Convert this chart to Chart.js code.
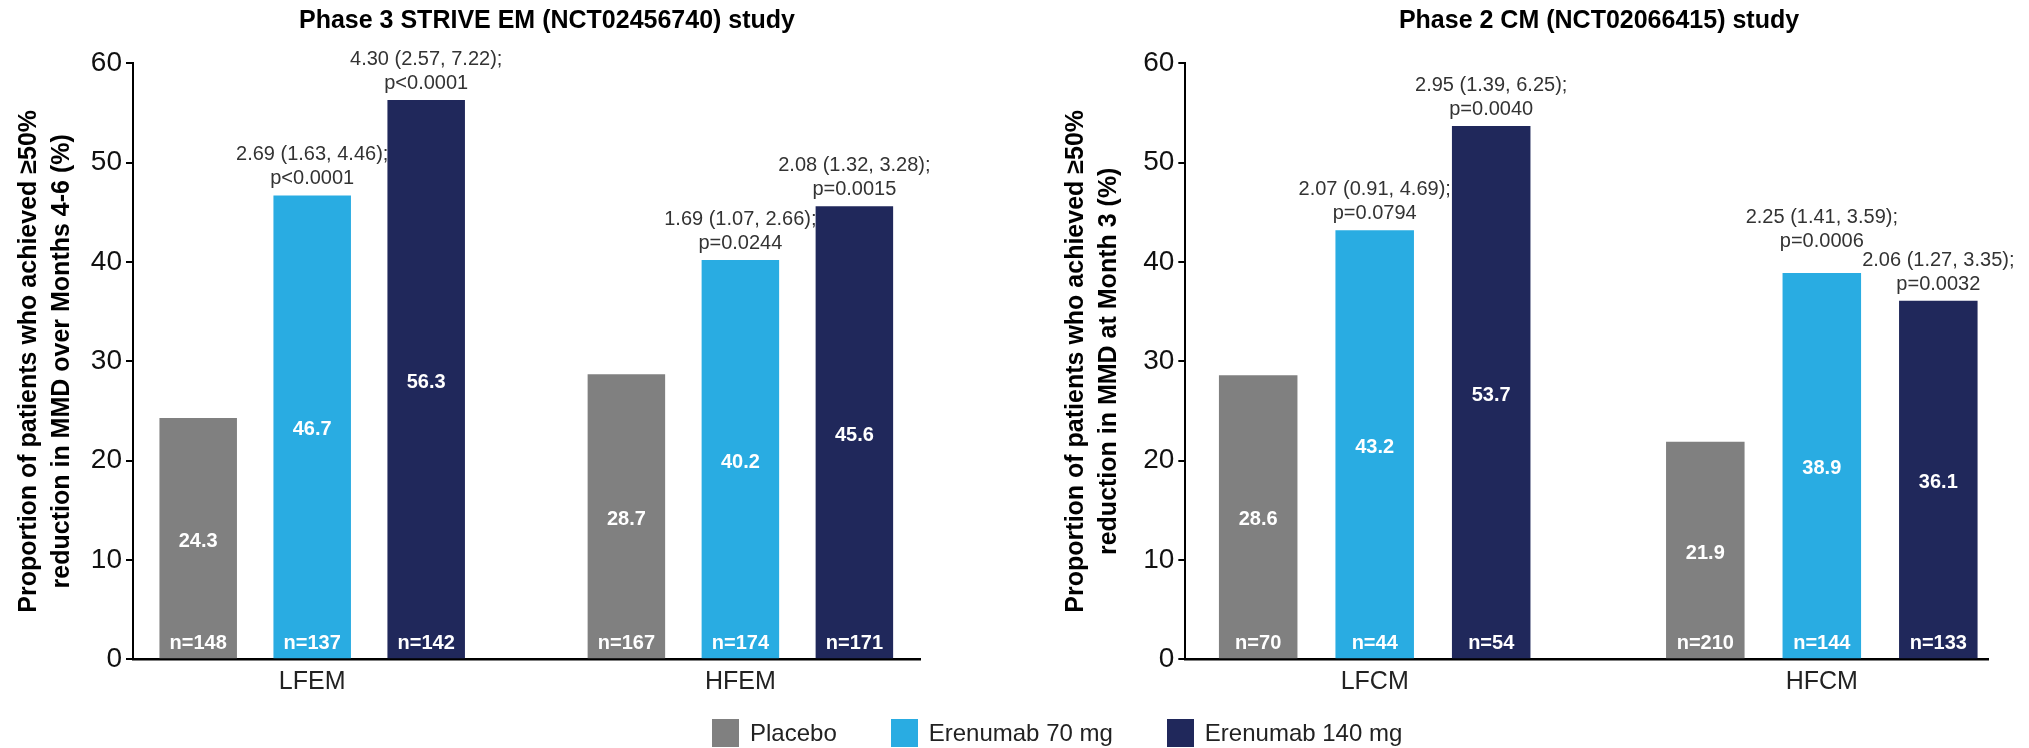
<!DOCTYPE html>
<html>
<head>
<meta charset="utf-8">
<script src="https://cdn.jsdelivr.net/npm/chart.js@4.4.1/dist/chart.umd.min.js"></script>
<style>
  html, body { margin: 0; padding: 0; background: #fff; }
  body { width: 2029px; height: 748px; position: relative; overflow: hidden; font-family: 'Liberation Sans', Arial, sans-serif; }
  #wrapL { position: absolute; left: 0; top: 0; width: 1029px; height: 748px; }
  #wrapR { position: absolute; left: 1029px; top: 0; width: 1000px; height: 748px; }
  #legend { position: absolute; left: 712px; top: 719px; display: flex; align-items: center; height: 28px; }
  .item { display: flex; align-items: center; margin-right: 54px; }
  .box { width: 27px; height: 28px; margin-right: 11px; }
  .txt { font-size: 24px; color: #222; line-height: 28px; white-space: nowrap; }
</style>
</head>
<body>
<div id="wrapL"><canvas id="cL" width="1029" height="748"></canvas></div>
<div id="wrapR"><canvas id="cR" width="1000" height="748"></canvas></div>
<div id="legend"></div>
<script>
// ---------------- DATA ----------------
const seriesNames = ['Placebo', 'Erenumab 70 mg', 'Erenumab 140 mg'];
const seriesColors = ['#808080', '#29ACE2', '#20285B'];

const emTitle = 'Phase 3 STRIVE EM (NCT02456740) study';
const emCategories = ['LFEM', 'HFEM'];
const emPlacebo = [24.3, 28.7];
const emErenumab70 = [46.7, 40.2];
const emErenumab140 = [56.3, 45.6];
const emNPlacebo = [148, 167];
const emN70 = [137, 174];
const emN140 = [142, 171];
const emOR70 = ['2.69 (1.63, 4.46);', '1.69 (1.07, 2.66);'];
const emP70 = ['p<0.0001', 'p=0.0244'];
const emOR140 = ['4.30 (2.57, 7.22);', '2.08 (1.32, 3.28);'];
const emP140 = ['p<0.0001', 'p=0.0015'];
const emYTitle = ['Proportion of patients who achieved \u226550%', 'reduction in MMD over Months 4-6 (%)'];

const cmTitle = 'Phase 2 CM (NCT02066415) study';
const cmCategories = ['LFCM', 'HFCM'];
const cmPlacebo = [28.6, 21.9];
const cmErenumab70 = [43.2, 38.9];
const cmErenumab140 = [53.7, 36.1];
const cmNPlacebo = [70, 210];
const cmN70 = [44, 144];
const cmN140 = [54, 133];
const cmOR70 = ['2.07 (0.91, 4.69);', '2.25 (1.41, 3.59);'];
const cmP70 = ['p=0.0794', 'p=0.0006'];
const cmOR140 = ['2.95 (1.39, 6.25);', '2.06 (1.27, 3.35);'];
const cmP140 = ['p=0.0040', 'p=0.0032'];
const cmYTitle = ['Proportion of patients who achieved \u226550%', 'reduction in MMD at Month 3 (%)'];

const yMin = 0, yMax = 60, yStep = 10;

// ---------------- RENDERING ----------------
const FONT = "'Liberation Sans', Arial, sans-serif";

const barLabels = {
  id: 'barLabels',
  afterDatasetsDraw(chart, args, opts) {
    const ctx = chart.ctx;
    ctx.save();
    const dsets = chart.data.datasets;
    // inside-bar labels
    dsets.forEach((ds, di) => {
      const meta = chart.getDatasetMeta(di);
      meta.data.forEach((bar, i) => {
        const p = bar.getProps(['x', 'y', 'base'], true);
        ctx.fillStyle = '#ffffff';
        ctx.font = 'bold 20px ' + FONT;
        ctx.textAlign = 'center';
        ctx.textBaseline = 'middle';
        ctx.fillText(ds.data[i].toFixed(1), p.x, (p.y + p.base) / 2 + 3);
        ctx.textBaseline = 'alphabetic';
        ctx.fillText('n=' + ds.nValues[i], p.x, p.base - 9);
      });
    });
    // annotations above bars, placed right to left avoiding overlaps
    ctx.font = '20px ' + FONT;
    ctx.fillStyle = '#333333';
    ctx.textAlign = 'center';
    ctx.textBaseline = 'alphabetic';
    const nCat = chart.data.labels.length;
    for (let i = 0; i < nCat; i++) {
      const placed = [];
      for (let di = dsets.length - 1; di >= 0; di--) {
        const ds = dsets[di];
        if (!ds.orText) continue;
        const bar = chart.getDatasetMeta(di).data[i];
        const p = bar.getProps(['x', 'y'], true);
        const l1 = ds.orText[i], l2 = ds.pText[i];
        const w = Math.max(ctx.measureText(l1).width, ctx.measureText(l2).width);
        let b2 = p.y - 11;
        const lh = 24;
        let box = {l: p.x - w / 2, r: p.x + w / 2, t: b2 - lh - 15, b: b2 + 4};
        placed.forEach(q => {
          if (box.l < q.r && box.r > q.l && box.t < q.b && box.b > q.t) {
            const shift = box.b - q.t;
            b2 -= shift;
            box = {l: box.l, r: box.r, t: box.t - shift, b: box.b - shift};
          }
        });
        placed.push(box);
        ctx.fillText(l1, p.x, b2 - lh);
        ctx.fillText(l2, p.x, b2);
      }
    }
    // chart title
    ctx.font = 'bold 25px ' + FONT;
    ctx.fillStyle = '#000';
    ctx.textAlign = 'center';
    ctx.fillText(opts.title, opts.titleX, 27.5);
    ctx.restore();
  }
};

function makeChart(id, cfg) {
  const datasets = [
    {label: seriesNames[0], data: cfg.placebo, nValues: cfg.nP, backgroundColor: seriesColors[0]},
    {label: seriesNames[1], data: cfg.e70, nValues: cfg.n70, orText: cfg.or70, pText: cfg.p70, backgroundColor: seriesColors[1]},
    {label: seriesNames[2], data: cfg.e140, nValues: cfg.n140, orText: cfg.or140, pText: cfg.p140, backgroundColor: seriesColors[2]}
  ];
  return new Chart(document.getElementById(id), {
    type: 'bar',
    data: {labels: cfg.categories, datasets},
    plugins: [barLabels],
    options: {
      responsive: false,
      animation: false,
      devicePixelRatio: 1,
      layout: {padding: {left: 0, right: cfg.padRight, top: 63.3, bottom: 0}},
      datasets: {bar: {categoryPercentage: cfg.catPct, barPercentage: cfg.barPct}},
      plugins: {
        legend: {display: false},
        title: {display: false},
        tooltip: {enabled: false},
        barLabels: {title: cfg.title, titleX: cfg.titleX}
      },
      scales: {
        x: {
          grid: {display: false, drawTicks: false},
          border: {display: true, color: '#000', width: 2.5},
          ticks: {color: '#222', font: {family: FONT, size: 25}, padding: 8},
          afterFit: s => { s.height = 88.7; },
          afterBuildTicks: s => { s._startValue = cfg.startValue; s._valueRange = cfg.valueRange; }
        },
        y: {
          min: yMin, max: yMax,
          ticks: {stepSize: yStep, color: '#111', font: {family: FONT, size: 28}, padding: 4},
          grid: {drawOnChartArea: false, tickLength: 7, color: '#000', lineWidth: 2},
          border: {display: true, color: '#000', width: 2},
          title: {display: true, text: cfg.yTitle, color: '#000', font: {family: FONT, size: 25, weight: 'bold', lineHeight: 1.32}, padding: {top: cfg.yTitlePad, bottom: 0}},
          afterFit: s => { s.width = cfg.yWidth; }
        }
      }
    }
  });
}

makeChart('cL', {
  categories: emCategories, placebo: emPlacebo, e70: emErenumab70, e140: emErenumab140,
  nP: emNPlacebo, n70: emN70, n140: emN140, or70: emOR70, p70: emP70, or140: emOR140, p140: emP140,
  yTitle: emYTitle, title: emTitle, titleX: 547,
  padRight: 1029 - 920, yWidth: 133, yTitlePad: 12.2,
  startValue: -0.4185, valueRange: 1.838, catPct: 0.7987, barPct: 0.68
});

makeChart('cR', {
  categories: cmCategories, placebo: cmPlacebo, e70: cmErenumab70, e140: cmErenumab140,
  nP: cmNPlacebo, n70: cmN70, n140: cmN140, or70: cmOR70, p70: cmP70, or140: cmOR140, p140: cmP140,
  yTitle: cmYTitle, title: cmTitle, titleX: 570,
  padRight: 1000 - (1988 - 1029), yWidth: 156.3, yTitlePad: 30.5,
  startValue: -0.4236, valueRange: 1.7953, catPct: 0.7817, barPct: 0.674
});

// legend
const leg = document.getElementById('legend');
seriesNames.forEach((name, i) => {
  const it = document.createElement('div');
  it.className = 'item';
  const b = document.createElement('div');
  b.className = 'box';
  b.style.background = seriesColors[i];
  const t = document.createElement('span');
  t.className = 'txt';
  t.textContent = name;
  it.appendChild(b); it.appendChild(t);
  leg.appendChild(it);
});
</script>
</body>
</html>
